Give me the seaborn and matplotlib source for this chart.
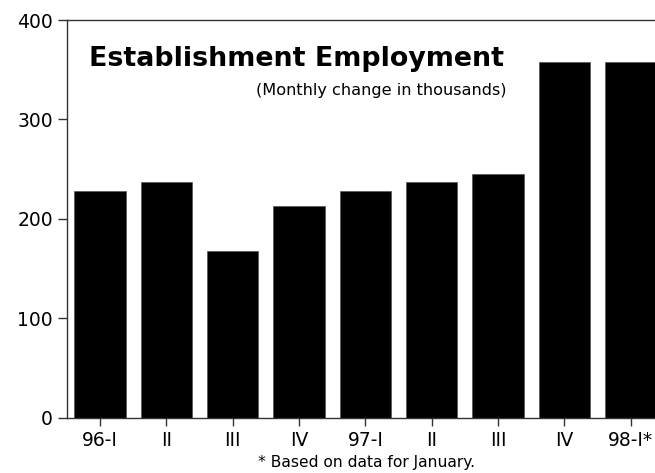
import numpy as np
import matplotlib
matplotlib.use("Agg")
import matplotlib.pyplot as plt
import seaborn as sns

# Quarterly data (monthly change in thousands)
quarters = ["96-I", "96-II", "96-III", "96-IV", "97-I", "97-II", "97-III", "97-IV", "98-I"]
tick_labels = ["96-I", "II", "III", "IV", "97-I", "II", "III", "IV", "98-I*"]
values = [228, 237, 168, 213, 228, 237, 245, 358, 358]

sns.set_style("ticks")
plt.rcParams["font.family"] = ["DejaVu Sans"]
plt.rcParams["text.color"] = "black"

fig = plt.figure(figsize=(6.55, 4.73), dpi=100)
ax = fig.add_axes([0.1018, 0.1169, 0.8982, 0.8408])

sns.barplot(x=quarters, y=values, order=quarters, color="black", saturation=1,
            width=0.77, edgecolor="#555555", linewidth=0.5, ax=ax)

ax.set_xlim(-0.502, 8.366)
ax.set_ylim(0, 400)
ax.set_yticks([0, 100, 200, 300, 400])
ax.set_xticks(range(len(quarters)))
ax.set_xticklabels(tick_labels)
ax.set_xlabel("")
ax.set_ylabel("")

for side in ["left", "top", "bottom"]:
    ax.spines[side].set_visible(True)
    ax.spines[side].set_color("#333333")
    ax.spines[side].set_linewidth(1.0)
ax.spines["right"].set_visible(False)

ax.tick_params(axis="y", length=6.3, width=1.0, color="#333333", pad=3.6,
               labelsize=13.5, labelcolor="black")
ax.tick_params(axis="x", length=5.8, width=1.0, color="#333333", pad=4,
               labelsize=13.5, labelcolor="black")

# Title block inside the plot
fig.text(89 / 655, 1 - 65.5 / 473, "Establishment Employment", color="black",
         fontsize=19.4, fontweight="bold", ha="left", va="baseline")
fig.text(506.7 / 655, 1 - 95 / 473, "(Monthly change in thousands)", color="black",
         fontsize=11.6, ha="right", va="baseline")

# Footnote
fig.text(367 / 655, 1 - 466.7 / 473, "* Based on data for January.", color="black",
         fontsize=11.2, ha="center", va="baseline")

fig.savefig("out.png", dpi=100)
plt.close(fig)
